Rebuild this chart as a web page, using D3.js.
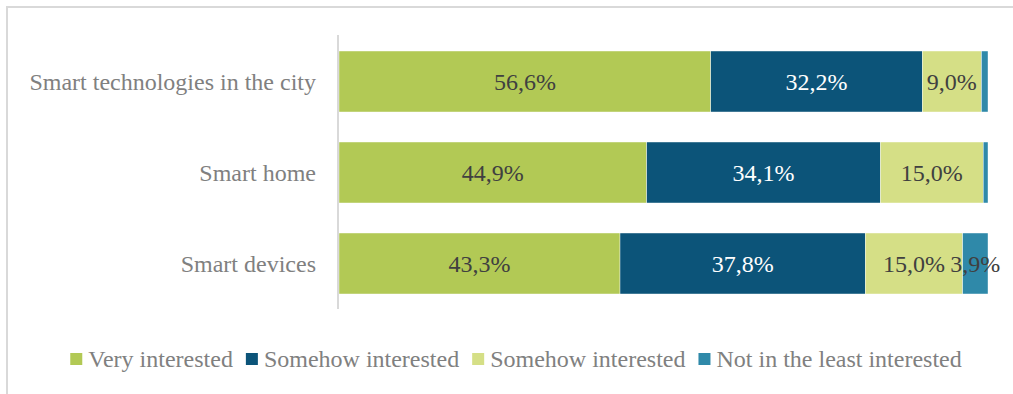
<!DOCTYPE html>
<html>
<head>
<meta charset="utf-8">
<script src="https://cdn.jsdelivr.net/npm/d3@7"></script>
<style>
  body { margin: 0; background: #fff; }
  svg text { font-family: "Liberation Serif", "Times New Roman", serif; }
</style>
</head>
<body>
<div id="chart"></div>
<script>
const categories = ["Smart technologies in the city", "Smart home", "Smart devices"];
const seriesNames = ["Very interested", "Somehow interested", "Somehow interested", "Not in the least interested"];
const veryInterested = [56.6, 44.9, 43.3];
const somehowInterested = [32.2, 34.1, 37.8];
const somehowInterested2 = [9.0, 15.0, 15.0];
const notInterested = [1.0, 0.7, 3.9];
const colors = ["#b2c955", "#0c5479", "#d5df86", "#2f89a9"];
const labelColors = ["#404040", "#ffffff", "#404040", "#404040"];

const W = 1013, H = 394;
const margin = { top: 35, right: 25, bottom: 85, left: 339 };

const svg = d3.select("#chart").append("svg")
    .attr("width", W)
    .attr("height", H);

// outer frame (only top/left edges are visible)
svg.append("path")
    .attr("d", `M7,${H} V7 H${W}`)
    .attr("fill", "none")
    .attr("stroke", "#d9d9d9")
    .attr("stroke-width", 2);

const keys = ["k0", "k1", "k2", "k3"];
const rows = categories.map((c, i) => ({
    cat: c,
    k0: veryInterested[i],
    k1: somehowInterested[i],
    k2: somehowInterested2[i],
    k3: notInterested[i]
}));

const stacked = d3.stack().keys(keys).offset(d3.stackOffsetExpand)(rows);

const x = d3.scaleLinear()
    .domain([0, 1])
    .range([margin.left, W - margin.right]);

const y = d3.scaleBand()
    .domain(categories)
    .range([35, 310])
    .paddingInner(0.33)
    .paddingOuter(0.176);

const layers = svg.append("g").selectAll("g")
    .data(stacked)
    .join("g")
    .attr("fill", (d, i) => colors[i]);

layers.selectAll("rect")
    .data(d => d)
    .join("rect")
    .attr("x", d => x(d[0]))
    .attr("y", d => y(d.data.cat))
    .attr("width", d => x(d[1]) - x(d[0]))
    .attr("height", y.bandwidth())
    .attr("stroke", "#ffffff")
    .attr("stroke-width", 0.4);

// data labels (tiny slices left unlabeled)
layers.each(function (layer, li) {
    d3.select(this).selectAll("text")
        .data(layer.filter(d => d.data[keys[li]] >= 2))
        .join("text")
        .attr("x", d => (x(d[0]) + x(d[1])) / 2)
        .attr("y", d => y(d.data.cat) + y.bandwidth() / 2)
        .attr("dy", "0.35em")
        .attr("text-anchor", "middle")
        .attr("font-size", 24)
        .attr("fill", labelColors[li])
        .text(d => d.data[keys[li]].toFixed(1).replace(".", ",") + "%");
});

// vertical category axis line
svg.append("line")
    .attr("x1", margin.left - 1).attr("x2", margin.left - 1)
    .attr("y1", 35).attr("y2", 309)
    .attr("stroke", "#d9d9d9")
    .attr("stroke-width", 2);

svg.append("g").selectAll("text")
    .data(categories)
    .join("text")
    .attr("x", 316)
    .attr("y", d => y(d) + y.bandwidth() / 2)
    .attr("dy", "0.35em")
    .attr("text-anchor", "end")
    .attr("font-size", 24)
    .attr("fill", "#808080")
    .text(d => d);

// legend
const legend = svg.append("g");
let lx = 0;
seriesNames.forEach((name, i) => {
    const g = legend.append("g").attr("transform", `translate(${lx},0)`);
    g.append("rect")
        .attr("x", 0).attr("y", -14)
        .attr("width", 12).attr("height", 12)
        .attr("fill", colors[i]);
    const t = g.append("text")
        .attr("x", 18).attr("y", 0)
        .attr("font-size", 24)
        .attr("fill", "#808080")
        .text(name);
    lx += 18 + t.node().getComputedTextLength() + 13;
});
const legendW = lx - 13;
legend.attr("transform", `translate(${(71 + 961) / 2 - legendW / 2},367)`);
</script>
</body>
</html>
